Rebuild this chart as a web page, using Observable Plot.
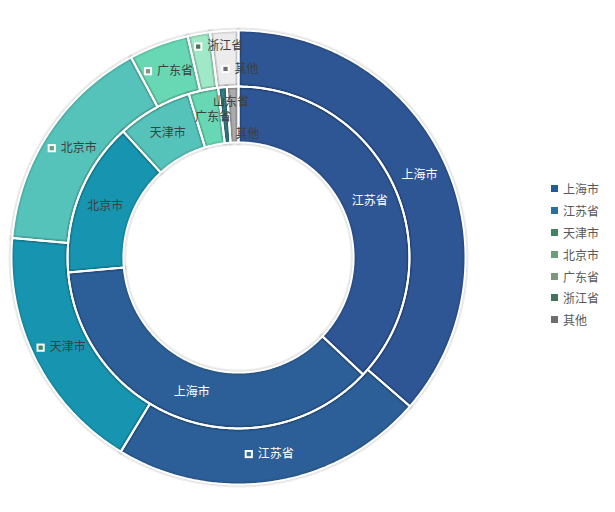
<!DOCTYPE html>
<html>
<head>
<meta charset="utf-8">
<script src="https://cdn.jsdelivr.net/npm/d3@7"></script>
<script src="https://cdn.jsdelivr.net/npm/@observablehq/plot@0.6"></script>
<style>
  body { margin: 0; background: #fff; font-family: "Noto Sans CJK SC", "Noto Sans", sans-serif; }
  #wrap { position: relative; width: 615px; height: 512px; overflow: hidden; }
  #legend { position: absolute; left: 551px; top: 178px; }
  #legend .lg-swatch { height: 21.8px !important; padding-bottom: 0 !important; margin: 0 !important; color: #595959; font-size: 12px; font-family: "Noto Sans CJK SC", sans-serif; }
  #legend .lg-swatch svg { margin-right: 5px !important; }
</style>
</head>
<body>
<div id="wrap"><div id="legend"></div></div>
<script>
// ---- data ----
const outerNames  = ["上海市", "江苏省", "天津市", "北京市", "广东省", "浙江省", "其他"];
const outerValues = [36.4, 22.3, 17.7, 15.8, 4.25, 1.6, 2.0];
const innerNames  = ["江苏省", "上海市", "北京市", "天津市", "广东省", "山东省", "其他"];
const innerValues = [37.0, 36.6, 14.6, 7.1, 2.8, 0.8, 1.1];
const legendNames = ["上海市", "江苏省", "天津市", "北京市", "广东省", "浙江省", "其他"];

// ---- styles ----
const outerColors  = ["#2e5594", "#2c5f97", "#1795b0", "#56c3ba", "#68d8b4", "#a0e9c8", "#ececec"];
const innerColors  = ["#2e5594", "#2c5f97", "#1795b0", "#56c3ba", "#68d8b4", "#367e88", "#ababab"];
const legendColors = ["#1f5c99", "#28719f", "#3b8562", "#6b9f77", "#7c977a", "#44725c", "#6e6e6e"];
const legendColorOf = Object.fromEntries(legendNames.map((n, i) => [n, legendColors[i]]));

const R_HOLE = 0.507, R_MID = 0.753, R_OUT = 1;
const PX = 1 / 227; // data units per pixel (radius = 227px)
// small label nudges (px) for crowded slices
const nudge = {
  "outer-浙江省": [15, -15], "outer-其他": [14, 10],
  "inner-山东省": [6, -13], "inner-其他": [14, 20], "inner-广东省": [4, 0]
};

function ring(ringName, names, values, colors, r0, r1) {
  const total = d3.sum(values);
  let acc = 0;
  return names.map((name, i) => {
    const a0 = acc / total * 2 * Math.PI;
    acc += values[i];
    const a1 = acc / total * 2 * Math.PI;
    return {ring: ringName, id: ringName + "-" + name, name, rank: i, a0, a1, r0, r1, color: colors[i]};
  });
}
const slices = [
  ...ring("outer", outerNames, outerValues, outerColors, R_MID, R_OUT),
  ...ring("inner", innerNames, innerValues, innerColors, R_HOLE, R_MID)
];

// polygon vertices of each annular sector
const pts = [];
for (const s of slices) {
  const n = Math.max(2, Math.ceil((s.a1 - s.a0) / (Math.PI / 360)));
  for (let k = 0; k <= n; k++) {
    const a = s.a0 + (s.a1 - s.a0) * k / n;
    pts.push({id: s.id, color: s.color, x: s.r1 * Math.sin(a), y: s.r1 * Math.cos(a)});
  }
  for (let k = n; k >= 0; k--) {
    const a = s.a0 + (s.a1 - s.a0) * k / n;
    pts.push({id: s.id, color: s.color, x: s.r0 * Math.sin(a), y: s.r0 * Math.cos(a)});
  }
}

// labels at centroids
const labels = slices.map(s => {
  const am = (s.a0 + s.a1) / 2, rm = (s.r0 + s.r1) / 2;
  const [ndx, ndy] = nudge[s.id] || [0, 0];
  const cx = rm * Math.sin(am) + ndx * PX, cy = rm * Math.cos(am) - ndy * PX;
  const hasKey = s.ring === "outer" && s.rank > 0;
  const tw = s.name.length * 12;
  return {
    ...s, cx, cy, hasKey,
    tx: cx + (hasKey ? 6.5 * PX : 0),
    kx: cx - ((13 + tw) / 2 - 4) * PX,
    textColor: s.rank < 2 ? "#ffffff" : "#3f3f3f",
    keyColor: legendColorOf[s.name] || "#6e6e6e"
  };
});
const keyed = labels.filter(d => d.hasKey);

const svg = Plot.plot({
  width: 615,
  height: 512,
  margin: 0,
  x: {domain: [-1, 1], range: [11, 465], axis: null},
  y: {domain: [-1, 1], range: [484, 30], axis: null},
  color: {type: "identity"},
  marks: [
    Plot.line(pts, {x: "x", y: "y", z: "id", fill: "color", stroke: "none", curve: "linear-closed"}),
    // soft darker band along the sector edges
    Plot.line(pts, {x: "x", y: "y", z: "id", fill: "none", stroke: "#000", strokeOpacity: 0.07, strokeWidth: 6, curve: "linear-closed"}),
    Plot.line(pts, {x: "x", y: "y", z: "id", fill: "none", stroke: "#000", strokeOpacity: 0.05, strokeWidth: 3.5, curve: "linear-closed"}),
    Plot.line(pts, {x: "x", y: "y", z: "id", fill: "none", stroke: "white", strokeWidth: 2, curve: "linear-closed"}),
    Plot.dot(keyed, {x: "kx", y: "cy", symbol: "square", r: 4.6, fill: "white", stroke: "none"}),
    Plot.dot(keyed, {x: "kx", y: "cy", symbol: "square", r: 2.4, fill: "keyColor", stroke: "none"}),
    Plot.text(labels, {x: "tx", y: "cy", text: "name", fill: "textColor", fontSize: 12, fontFamily: "Noto Sans CJK SC, sans-serif"})
  ]
});
document.getElementById("wrap").prepend(svg);
svg.style.position = "absolute";
svg.style.left = "0";
svg.style.top = "0";

const leg = Plot.legend({
  color: {type: "ordinal", domain: legendNames, range: legendColors},
  legend: "swatches",
  columns: 1,
  swatchSize: 7,
  className: "lg"
});
document.getElementById("legend").appendChild(leg);
</script>
</body>
</html>
